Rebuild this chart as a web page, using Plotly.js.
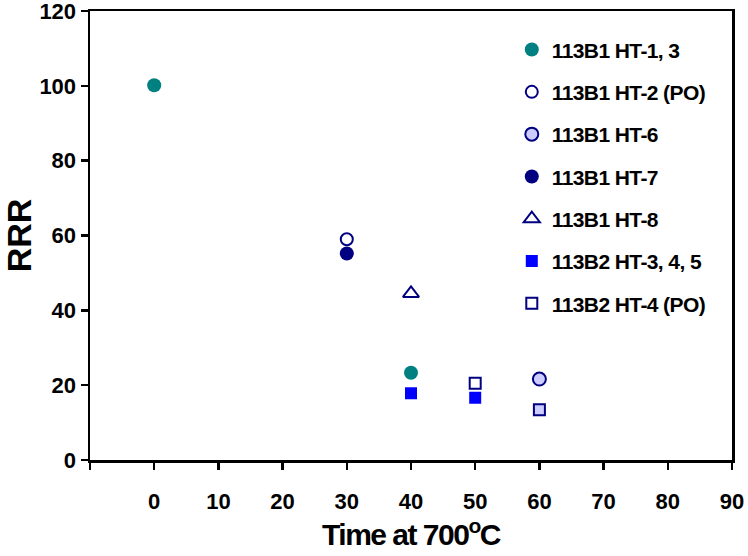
<!DOCTYPE html>
<html>
<head>
<meta charset="utf-8">
<script src="https://cdn.plot.ly/plotly-3.0.1.min.js"></script>
<style>
html,body{margin:0;padding:0;background:#fff;}
#chart{width:748px;height:556px;}
#chart .legendtext{letter-spacing:-0.6px;}
#chart .xtitle{letter-spacing:-1.5px;}
</style>
</head>
<body>
<div id="chart"></div>
<script>
// Series names
const seriesNames = ["113B1 HT-1, 3", "113B1 HT-2 (PO)", "113B1 HT-6", "113B1 HT-7", "113B1 HT-8", "113B2 HT-3, 4, 5", "113B2 HT-4 (PO)"];
// Values (time at 700°C, RRR)
const ht13_x = [0, 40];      const ht13_y = [100.2, 23.3];
const ht2po_x = [30];        const ht2po_y = [59.0];
const ht6_x = [60];          const ht6_y = [21.6];
const ht7_x = [30];          const ht7_y = [55.2];
const ht8_x = [40];          const ht8_y = [44.5];
const b2ht345_x = [40, 50];  const b2ht345_y = [17.8, 16.6];
const b2ht4po_x = [50, 60];  const b2ht4po_y = [20.5, 13.4];
const xTicks = [0, 10, 20, 30, 40, 50, 60, 70, 80, 90];
const yTicks = [0, 20, 40, 60, 80, 100, 120];

const FONT = "Liberation Sans, Arial, sans-serif";
const navy = "#000080";

function tr(i, x, y, marker) {
  return {type: "scatter", mode: "markers", name: seriesNames[i], x: x, y: y,
          legendgroup: "g" + i, marker: marker, hoverinfo: "x+y", cliponaxis: false};
}

const data = [
  tr(0, ht13_x, ht13_y, {symbol: "circle", size: 14, color: "#008080", line: {width: 0}}),
  tr(1, ht2po_x, ht2po_y, {symbol: "circle", size: 12, color: "#ffffff", line: {width: 2, color: navy}}),
  tr(2, ht6_x, ht6_y, {symbol: "circle", size: 13, color: "#ccccff", line: {width: 2, color: navy}}),
  tr(3, ht7_x, ht7_y, {symbol: "circle", size: 14, color: navy, line: {width: 0}}),
  tr(4, ht8_x, ht8_y, {symbol: "triangle-up", size: 14, color: "#ffffff", line: {width: 2, color: navy}}),
  tr(5, b2ht345_x, b2ht345_y, {symbol: "square", size: 12, color: "#0000ff", line: {width: 0}}),
  tr(6, b2ht4po_x, b2ht4po_y, {symbol: "square", size: 11, color: ["#ffffff", "#ccccff"], line: {width: 2, color: navy}})
];

const layout = {
  width: 748, height: 556,
  margin: {l: 90, r: 16, t: 11, b: 96},
  paper_bgcolor: "#ffffff", plot_bgcolor: "#ffffff",
  font: {family: FONT, color: "#000000"},
  showlegend: true,
  legend: {x: 0.657, y: 0.959, xanchor: "left", yanchor: "top",
           bgcolor: "rgba(0,0,0,0)", tracegroupgap: 12,
           font: {family: FONT, size: 21, weight: "bold", color: "#000"}},
  xaxis: {range: [-10, 90], tickvals: xTicks, ticktext: xTicks.map(String),
          showgrid: false, zeroline: false, showline: true, linecolor: "#000", linewidth: 2.5,
          mirror: true, ticks: "outside", ticklen: 7, tickwidth: 2.5, tickcolor: "#000",
          minor: {tickvals: [-10], ticks: "outside", ticklen: 7, tickwidth: 2.5, tickcolor: "#000", showgrid: false},
          ticklabelstandoff: 13,
          tickfont: {family: FONT, size: 22, weight: "bold", color: "#000"},
          title: {text: "Time at 700<sup>o</sup>C", standoff: 7,
                  font: {family: FONT, size: 30, weight: "bold", color: "#000"}}},
  yaxis: {range: [-0.05, 120.05], tickvals: yTicks, ticktext: yTicks.map(String),
          ticklabeloverflow: "allow",
          showgrid: false, zeroline: false, showline: true, linecolor: "#000", linewidth: 2.5,
          mirror: true, ticks: "outside", ticklen: 7, tickwidth: 2.5, tickcolor: "#000",
          tickfont: {family: FONT, size: 22, weight: "bold", color: "#000"},
          title: {text: "RRR", standoff: 10,
                  font: {family: FONT, size: 34, weight: "bold", color: "#000"}}}
};

Plotly.newPlot("chart", data, layout, {displayModeBar: false, staticPlot: true});
</script>
</body>
</html>
